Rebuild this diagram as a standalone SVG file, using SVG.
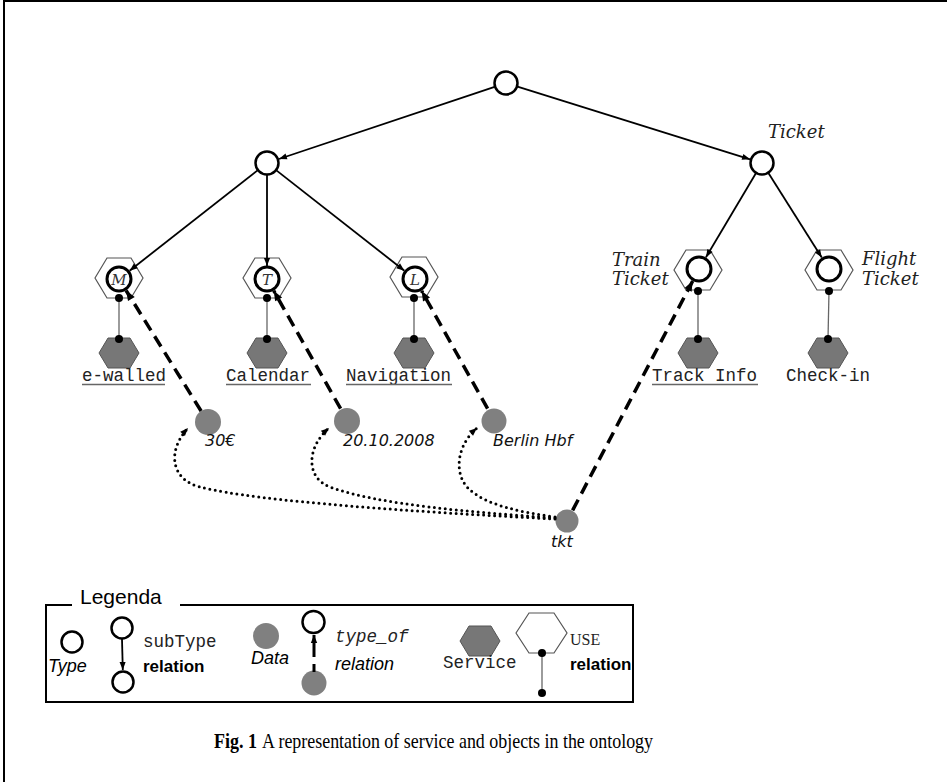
<svg xmlns="http://www.w3.org/2000/svg" width="947" height="782" viewBox="0 0 947 782">
  <style>
    .frame { fill: none; stroke: #000; stroke-width: 2; }
    .type { fill: #fff; stroke: #000; stroke-width: 2.5; }
    .ntype { fill: #fff; stroke: #000; stroke-width: 3; }
    .use { fill: #fff; stroke: #555; stroke-width: 1.2; }
    .svc { fill: #777; stroke: #555; stroke-width: 1; }
    .data { fill: #808080; }
    .dot { fill: #000; }
    .uline { stroke: #666; stroke-width: 1.3; }
    .edge { fill: none; stroke: #000; stroke-width: 1.8; }
    .typeof { fill: none; stroke: #000; stroke-width: 3.5; stroke-dasharray: 12 7; }
    .dotted { fill: none; stroke: #000; stroke-width: 3; stroke-dasharray: 0 5.5; stroke-linecap: round; }
    .mono { font-family: "Liberation Mono", "DejaVu Sans Mono", monospace; font-size: 17.5px; fill: #222; }
    .script { font-family: "DejaVu Serif", "Liberation Serif", serif; font-style: italic; font-size: 18px; fill: #222; }
    .letter { font-family: "DejaVu Serif", "Liberation Serif", serif; font-style: italic; font-size: 15px; fill: #333; text-anchor: middle; }
    .val { font-family: "DejaVu Sans", "Verdana", sans-serif; font-style: italic; font-size: 16px; fill: #111; }
    .leg { font-family: "Liberation Sans", Arial, sans-serif; fill: #000; }
    .cap { font-family: "Liberation Serif", "Times New Roman", serif; font-size: 22px; fill: #000; }
  </style>
  <defs>
    <marker id="arr" viewBox="0 0 10 10" refX="10" refY="5" markerWidth="10" markerHeight="8" markerUnits="userSpaceOnUse" orient="auto">
      <path d="M0,1.2 L10,5 L0,8.8 z" fill="#000"/>
    </marker>
    <marker id="arrBig" viewBox="0 0 10 10" refX="10" refY="5" markerWidth="11" markerHeight="10" markerUnits="userSpaceOnUse" orient="auto">
      <path d="M0,1 L10,5 L0,9 z" fill="#000"/>
    </marker>
    <marker id="arrSm" viewBox="0 0 10 10" refX="10" refY="5" markerWidth="9" markerHeight="8" markerUnits="userSpaceOnUse" orient="auto">
      <path d="M0,1 L10,5 L0,9 z" fill="#000"/>
    </marker>
    <polygon id="hexUse" points="-24,0 -12,-20 12,-20 24,0 12,20 -12,20"/>
    <polygon id="hexSvc" points="-20,0 -11,-15 11,-15 20,0 11,15 -11,15"/>
  </defs>

  <!-- outer frame -->
  <path class="frame" d="M4,782 L4,1 L947,1"/>

  <!-- type nodes -->
  <g id="root"><circle class="type" cx="506" cy="83" r="11.5"/></g>
  <g id="service-type"><circle class="type" cx="267" cy="163" r="11.5"/></g>
  <g id="ticket">
    <circle class="type" cx="762" cy="163" r="11.5"/>
    <text class="script" x="768" y="138">Ticket</text>
  </g>

  <!-- services with their types -->
  <g id="e-walled">
    <use href="#hexUse" class="use" x="119" y="278"/>
    <circle class="ntype" cx="119" cy="279" r="12"/>
    <text class="letter" x="119" y="284.5">M</text>
    <use href="#hexSvc" class="svc" x="119" y="353"/>
    <text class="mono" x="82" y="381">e-walled</text>
    <line class="uline" x1="82" y1="384.5" x2="165" y2="384.5"/>
  </g>
  <g id="calendar">
    <use href="#hexUse" class="use" x="267" y="278"/>
    <circle class="ntype" cx="267" cy="279" r="12"/>
    <text class="letter" x="267" y="284.5">T</text>
    <use href="#hexSvc" class="svc" x="267" y="353"/>
    <text class="mono" x="226" y="381">Calendar</text>
    <line class="uline" x1="226" y1="384.5" x2="311" y2="384.5"/>
  </g>
  <g id="navigation">
    <use href="#hexUse" class="use" x="414" y="277"/>
    <circle class="ntype" cx="415" cy="279" r="12"/>
    <text class="letter" x="415" y="284.5">L</text>
    <use href="#hexSvc" class="svc" x="414" y="353"/>
    <text class="mono" x="346" y="381">Navigation</text>
    <line class="uline" x1="346" y1="384.5" x2="452" y2="384.5"/>
  </g>
  <g id="track-info">
    <use href="#hexUse" class="use" x="698" y="270"/>
    <circle class="ntype" cx="699" cy="269" r="12"/>
    <text class="script" x="612" y="266">Train</text>
    <text class="script" x="612" y="285">Ticket</text>
    <use href="#hexSvc" class="svc" x="698" y="353"/>
    <text class="mono" x="652" y="381">Track Info</text>
    <line class="uline" x1="652" y1="384.5" x2="758" y2="384.5"/>
  </g>
  <g id="check-in">
    <use href="#hexUse" class="use" x="829" y="270"/>
    <circle class="ntype" cx="829" cy="269" r="12"/>
    <text class="script" x="862" y="265">Flight</text>
    <text class="script" x="862" y="285">Ticket</text>
    <use href="#hexSvc" class="svc" x="828" y="353"/>
    <text class="mono" x="786" y="381">Check-in</text>
  </g>

  <!-- data nodes -->
  <g id="price">
    <circle class="data" cx="208" cy="422" r="13"/>
    <text class="val" x="205" y="446">30€</text>
  </g>
  <g id="date">
    <circle class="data" cx="347" cy="421" r="13"/>
    <text class="val" x="343" y="446">20.10.2008</text>
  </g>
  <g id="station">
    <circle class="data" cx="494" cy="421" r="12.5"/>
    <text class="val" x="493" y="446">Berlin Hbf</text>
  </g>
  <g id="tkt">
    <circle class="data" cx="567" cy="521" r="11.5"/>
    <text class="val" x="551" y="547">tkt</text>
  </g>

  <!-- connectors -->
  <g id="connectors">
    <!-- subType relations -->
    <line class="edge" x1="494.6" y1="86.8" x2="278.9" y2="159" marker-end="url(#arr)"/>
    <line class="edge" x1="517.5" y1="86.6" x2="750.1" y2="159.3" marker-end="url(#arr)"/>
    <line class="edge" x1="257.6" y1="170.4" x2="129.6" y2="270.7" marker-end="url(#arr)"/>
    <line class="edge" x1="267" y1="175" x2="267" y2="266" marker-end="url(#arr)"/>
    <line class="edge" x1="276.4" y1="170.4" x2="404.4" y2="270.7" marker-end="url(#arr)"/>
    <line class="edge" x1="755.9" y1="173.3" x2="705.9" y2="257.4" marker-end="url(#arr)"/>
    <line class="edge" x1="768.4" y1="173.1" x2="821.8" y2="257.6" marker-end="url(#arr)"/>

    <!-- USE relations -->
    <g class="uline">
      <line x1="119" y1="298" x2="119" y2="339"/>
      <line x1="267" y1="298" x2="267" y2="339"/>
      <line x1="414" y1="298" x2="414" y2="339"/>
      <line x1="698" y1="291" x2="698" y2="339"/>
      <line x1="829" y1="291" x2="828" y2="339"/>
    </g>
    <g class="dot">
      <circle cx="119" cy="298" r="4"/><circle cx="119" cy="339" r="4"/>
      <circle cx="267" cy="298" r="4"/><circle cx="267" cy="339" r="4"/>
      <circle cx="414" cy="298" r="4"/><circle cx="414" cy="339" r="4"/>
      <circle cx="698" cy="291" r="4"/><circle cx="698" cy="339" r="4"/>
      <circle cx="829" cy="291" r="4"/><circle cx="828" cy="339" r="4"/>
    </g>

    <!-- type_of relations -->
    <line class="typeof" x1="201.1" y1="411" x2="126.1" y2="290.5" marker-end="url(#arrBig)"/>
    <line class="typeof" x1="340.6" y1="408.7" x2="273.7" y2="290.7" marker-end="url(#arrBig)"/>
    <line class="typeof" x1="487.6" y1="408.7" x2="421.6" y2="290.8" marker-end="url(#arrBig)"/>
    <line class="typeof" x1="572.6" y1="510.4" x2="692.7" y2="281" marker-end="url(#arrBig)"/>

    <!-- tkt attributes -->
    <path class="dotted" d="M555,519 C420,512 260,502 200,487 C172,480 166,452 188,428" marker-end="url(#arrSm)"/>
    <path class="dotted" d="M555,518 C470,512 380,505 330,487 C306,478 306,448 329,428" marker-end="url(#arrSm)"/>
    <path class="dotted" d="M555,517 C520,512 485,505 468,488 C455,475 455,447 477,428" marker-end="url(#arrSm)"/>
  </g>

  <!-- legend -->
  <g id="legend">
    <path class="frame" stroke-width="1.5" d="M72,605 L46,605 L46,702 L633,702 L633,605 L180,605"/>
    <text class="leg" x="80" y="604" font-size="21">Legenda</text>

    <circle class="type" cx="72" cy="642" r="10.5"/>
    <text class="leg" x="48" y="672" font-size="18" font-style="italic">Type</text>

    <circle class="type" cx="122" cy="628" r="10.5"/>
    <circle class="type" cx="123" cy="682" r="10.5"/>
    <line class="edge" x1="122" y1="639" x2="122.8" y2="670" marker-end="url(#arr)"/>
    <text class="mono" x="143" y="647" font-size="16">subType</text>
    <text class="leg" x="143" y="672" font-size="17" font-weight="bold">relation</text>

    <circle class="data" cx="266" cy="636" r="13"/>
    <text class="leg" x="251" y="664" font-size="18" font-style="italic">Data</text>
    <circle class="type" cx="313.5" cy="622" r="11"/>
    <circle class="data" cx="314" cy="683" r="12.5"/>
    <line x1="314" y1="672" x2="314" y2="664" stroke="#000" stroke-width="3"/>
    <line x1="314" y1="657" x2="314" y2="635" stroke="#000" stroke-width="3" marker-end="url(#arrSm)"/>
    <text class="mono" x="335" y="642" font-size="16.5" font-style="italic">type_of</text>
    <text class="leg" x="335" y="670" font-size="18" font-style="italic">relation</text>

    <use href="#hexSvc" class="svc" x="480" y="641"/>
    <text class="mono" x="443" y="668" font-size="17">Service</text>

    <polygon class="use" points="516,633 529,613 554,613 567,633 554,653 529,653"/>
    <line class="uline" x1="542" y1="653" x2="542" y2="693"/>
    <circle class="dot" cx="542" cy="653" r="4"/>
    <circle class="dot" cx="542" cy="693" r="4"/>
    <text x="570" y="645" font-family="Liberation Serif, serif" font-size="16" fill="#222">USE</text>
    <text class="leg" x="570" y="670" font-size="17" font-weight="bold">relation</text>
  </g>

  <!-- caption -->
  <text class="cap" x="214" y="748" font-weight="bold" textLength="43" lengthAdjust="spacingAndGlyphs">Fig. 1</text>
  <text class="cap" x="262" y="748" textLength="391" lengthAdjust="spacingAndGlyphs">A representation of service and objects in the ontology</text>
</svg>
